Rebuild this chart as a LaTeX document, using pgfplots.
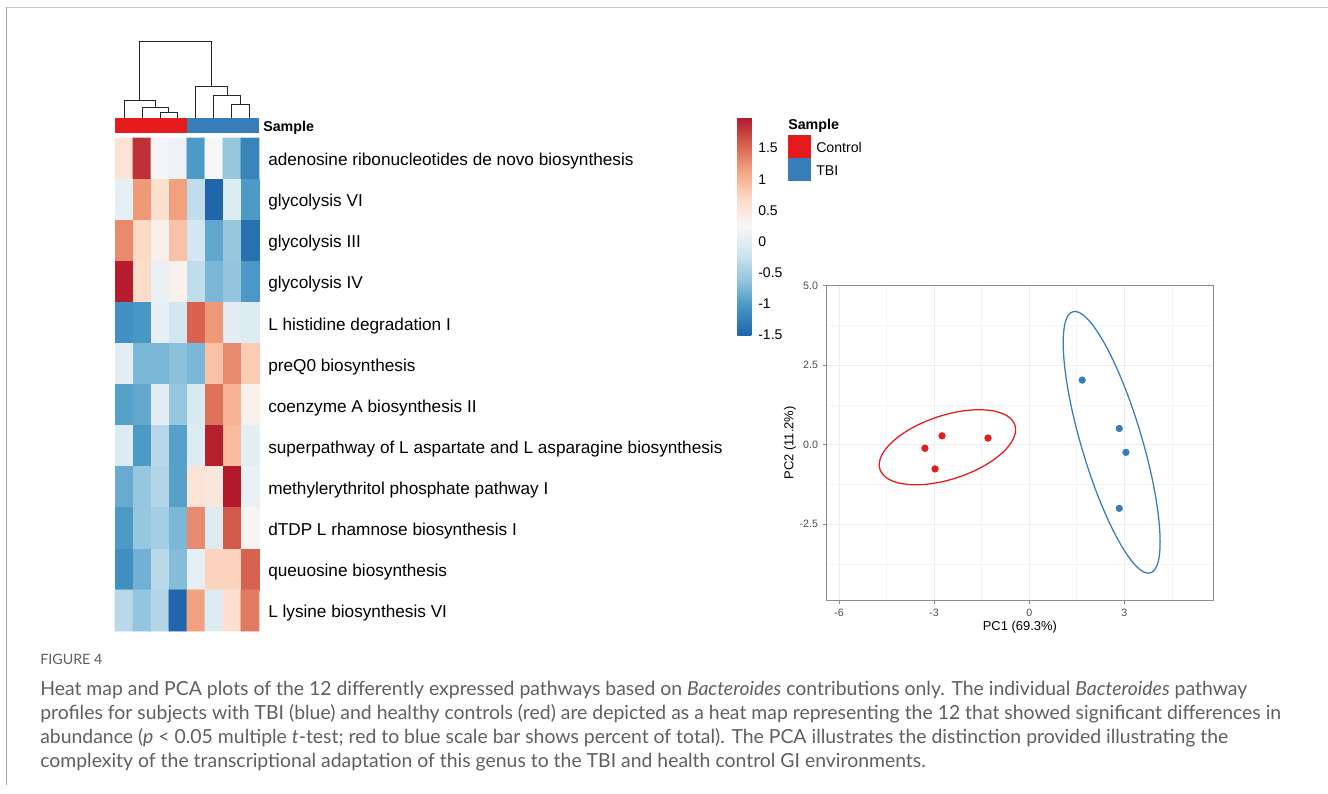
\documentclass[border=0pt]{standalone}
\usepackage{pgfplots}
\pgfplotsset{compat=1.18}
\usepackage{fontspec}
\setmainfont{Liberation Sans}
\newfontfamily\capfont{Lato}
\definecolor{cred}{HTML}{E41A1C}
\definecolor{cblue}{HTML}{377EB8}
\definecolor{framegray}{HTML}{C8C8C8}
\definecolor{captext}{HTML}{5F5F5F}
\pgfplotsset{
  colormap={rdbu}{rgb255=(33,102,172) rgb255=(67,147,195) rgb255=(146,197,222) rgb255=(209,229,240) rgb255=(247,247,247) rgb255=(253,219,199) rgb255=(244,165,130) rgb255=(214,96,77) rgb255=(178,24,43)},
  dend/.style={black!85, line width=0.75pt, no markers, solid},
}
\pgfplotstableread{
x y C
0 0 0.55
1 0 1.85
2 0 0.2
3 0 0.12
4 0 -1.0
5 0 0.25
6 0 -0.6
7 0 -1.2
0 1 0.05
1 1 1.2
2 1 0.6
3 1 1.15
4 1 -0.3
5 1 -1.5
6 1 -0.05
7 1 -1.0
0 2 1.3
1 2 0.7
2 2 0.38
3 2 0.9
4 2 -0.15
5 2 -0.9
6 2 -0.6
7 2 -1.4
0 3 1.97
1 3 0.65
2 3 0.08
3 3 0.35
4 3 -0.3
5 3 -0.75
6 3 -0.62
7 3 -1.02
0 4 -1.08
1 4 -1.03
2 4 0.05
3 4 -0.15
4 4 1.55
5 4 1.2
6 4 0.0
7 4 -0.05
0 5 0.02
1 5 -0.75
2 5 -0.76
3 5 -0.66
4 5 -0.75
5 5 0.9
6 5 1.3
7 5 0.8
0 6 -0.95
1 6 -0.88
2 6 0.0
3 6 -0.6
4 6 -0.1
5 6 1.45
6 6 1.0
7 6 0.35
0 7 -0.05
1 7 -1.0
2 7 -0.37
3 7 -0.95
4 7 -0.05
5 7 1.95
6 7 0.95
7 7 0.03
0 8 -0.85
1 8 -0.6
2 8 -0.4
3 8 -0.95
4 8 0.55
5 8 0.5
6 8 2.0
7 8 0.1
0 9 -1.0
1 9 -0.6
2 9 -0.5
3 9 -0.75
4 9 1.3
5 9 -0.05
6 9 1.6
7 9 0.3
0 10 -1.1
1 10 -0.8
2 10 -0.35
3 10 -0.7
4 10 0.05
5 10 0.75
6 10 0.75
7 10 1.55
0 11 -0.35
1 11 -0.62
2 11 -0.4
3 11 -1.5
4 11 1.15
5 11 -0.05
6 11 0.6
7 11 1.4
}\heatdata
\begin{document}
\begin{tikzpicture}
\path[use as bounding box] (0,0) rectangle (996pt,-594.75pt);
% frame
\draw[framegray, line width=1.1pt] (4.2pt,-5.6pt) -- (996pt,-5.6pt);
\draw[black!35, line width=0.9pt] (4.9pt,-5.6pt) -- (4.9pt,-589pt);

% dendrogram
\begin{axis}[name=dendro, at={(86.25pt,-88.5pt)}, anchor=south west,
  width=108pt, height=57.225pt, scale only axis,
  xmin=-0.5, xmax=7.5, ymin=0, ymax=76.3, hide axis, clip=false]
\addplot[dend] coordinates {(2,0) (2,5.7) (3,5.7) (3,0)};
\addplot[dend] coordinates {(1,0) (1,10.7) (2.5,10.7) (2.5,5.7)};
\addplot[dend] coordinates {(0,0) (0,17.3) (1.75,17.3) (1.75,10.7)};
\addplot[dend] coordinates {(6,0) (6,14) (7,14) (7,0)};
\addplot[dend] coordinates {(5,0) (5,22.3) (6.5,22.3) (6.5,14)};
\addplot[dend] coordinates {(4,0) (4,32) (5.75,32) (5.75,22.3)};
\addplot[dend] coordinates {(0.875,17.3) (0.875,76.3) (4.875,76.3) (4.875,32)};
\end{axis}

% heat map
\begin{axis}[name=heat, at={(86.25pt,-103.5pt)}, anchor=north west,
  width=108pt, height=369.75pt, scale only axis,
  xmin=-0.5, xmax=7.5, ymin=-0.5, ymax=11.5, y dir=reverse,
  axis line style={draw=none}, tick style={draw=none},
  xtick=\empty, ytick={0,...,11},
  yticklabels={adenosine ribonucleotides de novo biosynthesis, glycolysis VI, glycolysis III, glycolysis IV, L histidine degradation I, preQ0 biosynthesis, coenzyme A biosynthesis II, superpathway of L aspartate and L asparagine biosynthesis, methylerythritol phosphate pathway I, dTDP L rhamnose biosynthesis I, queuosine biosynthesis, L lysine biosynthesis VI},
  yticklabel pos=right,
  yticklabel style={anchor=west, inner sep=0pt, xshift=6.75pt, yshift=-2pt, font=\fontsize{12.9}{15}\selectfont},
  colormap name=rdbu, point meta min=-1.5, point meta max=2.0,
  colorbar,
  colorbar style={at={(parent axis.north east)}, anchor=north west,
    xshift=350.25pt, yshift=15.75pt, width=10.5pt, height=163.5pt, scale only axis,
    ytick={-1.5,-1,-0.5,0,0.5,1,1.5},
    yticklabels={-1.5,-1,-0.5,0,0.5,1,1.5},
    yticklabel style={font=\fontsize{10.5}{12}\selectfont, anchor=west, inner sep=0pt, xshift=5pt},
    axis line style={draw=none}, tick style={draw=none}},
  clip=false]
\addplot[matrix plot*, mesh/cols=8, point meta=explicit] table[x=x, y=y, meta=C] {\heatdata};
\fill[cred] (axis cs:-0.5,-0.987) rectangle (axis cs:3.5,-0.622);
\fill[cblue] (axis cs:3.5,-0.987) rectangle (axis cs:7.5,-0.622);
\node[anchor=west, inner sep=0pt, font=\bfseries\fontsize{10.7}{12}\selectfont] at ([xshift=3pt,yshift=-1.5pt]axis cs:7.5,-0.805) {Sample};
\end{axis}

% legend
\node[anchor=west, inner sep=0pt, font=\bfseries\fontsize{10.7}{12}\selectfont] at (591pt,-94.5pt) {Sample};
\fill[cred] (591pt,-101.25pt) rectangle (608.25pt,-118.5pt);
\fill[cblue] (591pt,-118.5pt) rectangle (608.25pt,-135.75pt);
\node[anchor=west, inner sep=0pt, font=\fontsize{10.6}{12}\selectfont] at (612pt,-110.5pt) {Control};
\node[anchor=west, inner sep=0pt, font=\fontsize{10.6}{12}\selectfont] at (612pt,-128pt) {TBI};

% PCA
\begin{axis}[name=pca, at={(619.5pt,-450.5pt)}, anchor=south west,
  width=290.8pt, height=236.8pt, scale only axis,
  xmin=-6.41, xmax=5.82, ymin=-4.9, ymax=5.02,
  xtick={-6,-3,0,3}, xticklabels={-6,-3,0,3},
  ytick={-2.5,0,2.5,5}, yticklabels={-2.5,0.0,2.5,5.0},
  minor xtick={-4.5,-1.5,1.5,4.5}, minor ytick={-3.75,-1.25,1.25,3.75},
  grid=both, major grid style={black!7, line width=0.6pt}, minor grid style={black!4, line width=0.45pt},
  axis line style={black!45, line width=0.6pt}, tick style={black!45, line width=0.6pt},
  major tick length=2.5pt, minor tick length=0pt, tick align=outside,
  xtick pos=bottom, ytick pos=left,
  ticklabel style={font=\fontsize{8}{9}\selectfont, text=black!70},
  /pgf/number format/assume math mode=true,
  xlabel={PC1 (69.3\%)}, ylabel={PC2 (11.2\%)},
  label style={font=\fontsize{9.7}{11}\selectfont},
  xlabel style={at={(axis description cs:0.5,-0.083)}, anchor=center},
  ylabel style={at={(axis description cs:-0.093,0.5)}, anchor=center},
  clip=false]
\draw[cred, line width=0.95pt, rotate around={18.2:(axis cs:-2.58,-0.08)}] (axis cs:-2.58,-0.08) ellipse [x radius=53.25pt, y radius=23.9pt];
\draw[cblue, line width=0.95pt, rotate around={-73.45:(axis cs:2.60,0.075)}] (axis cs:2.60,0.075) ellipse [x radius=102.2pt, y radius=22.7pt];
\addplot[only marks, mark=*, mark size=2.5pt, cred, mark options={draw=cred, fill=cred}] coordinates {(-3.29,-0.11) (-2.75,0.28) (-2.97,-0.76) (-1.30,0.21)};
\addplot[only marks, mark=*, mark size=2.5pt, cblue, mark options={draw=cblue, fill=cblue}] coordinates {(1.67,2.03) (2.84,0.51) (3.05,-0.24) (2.84,-2.00)};
\end{axis}

% caption
\node[anchor=base west, inner sep=0pt, text=captext, font=\capfont\fontsize{10.7}{12}\selectfont] at (30pt,-498.4pt) {FIGURE 4};
\begin{scope}[every node/.style={anchor=base west, inner sep=0pt, text=captext, font=\capfont\fontsize{14.55}{17}\selectfont}]
\node at (30pt,-521.25pt) {Heat map and PCA plots of the 12 differently expressed pathways based on \textit{Bacteroides} contributions only. The individual \textit{Bacteroides} pathway};
\node at (30pt,-539.25pt) {profiles for subjects with TBI (blue) and healthy controls (red) are depicted as a heat map representing the 12 that showed significant differences in};
\node at (30pt,-557.25pt) {abundance (\textit{p} < 0.05 multiple \textit{t}-test; red to blue scale bar shows percent of total). The PCA illustrates the distinction provided illustrating the};
\node at (30pt,-575.25pt) {complexity of the transcriptional adaptation of this genus to the TBI and health control GI environments.};
\end{scope}
\end{tikzpicture}
\end{document}
